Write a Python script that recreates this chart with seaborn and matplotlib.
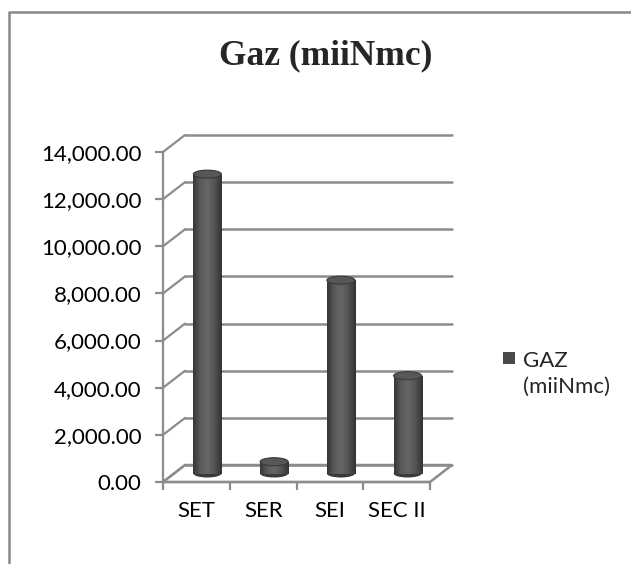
import numpy as np
import pandas as pd
import matplotlib
matplotlib.use("Agg")
import matplotlib.pyplot as plt
import matplotlib.transforms as mtransforms
from matplotlib.patches import Ellipse, Polygon, Rectangle
from matplotlib.lines import Line2D
from matplotlib.colors import LinearSegmentedColormap
import seaborn as sns

categories = ["SET", "SER", "SEI", "SEC II"]
values = [12700, 500, 8200, 4150]
series_name = "GAZ\n(miiNmc)"
title = "Gaz (miiNmc)"
yticks = [0, 2000, 4000, 6000, 8000, 10000, 12000, 14000]

sns.set_theme(style="white")
plt.rcParams["font.family"] = ["Lato", "DejaVu Sans"]

W, H = 631, 564
fig = plt.figure(figsize=(W / 100, H / 100), dpi=100)
ax = fig.add_axes([163 / W, 82 / H, 267 / W, 330 / H])

df = pd.DataFrame({"cat": categories, "val": values})
sns.barplot(data=df, x="cat", y="val", color="#4a4a4a", width=0.42, ax=ax,
            saturation=1, zorder=3)
bars = [p for p in ax.patches if isinstance(p, Rectangle)]

ax.set_xlim(-0.5, 3.5)
ax.set_ylim(0, 14000)

# depth offsets in data units
dx_back, dy_back = 0.33, 721
dx_mid, dy_mid = dx_back / 2, dy_back / 2
grid_c = "#8c8c8c"

# back wall gridlines + left wall connectors
for v in yticks:
    ax.add_line(Line2D([-0.5 + dx_back, 3.5 + dx_back], [v + dy_back, v + dy_back],
                       color=grid_c, lw=1.8, clip_on=False, zorder=1))
    ax.add_line(Line2D([-0.5, -0.5 + dx_back], [v, v + dy_back],
                       color=grid_c, lw=1.6, clip_on=False, zorder=1))
# floor
floor = Polygon([(-0.5, 0), (3.5, 0), (3.5 + dx_back, dy_back), (-0.5 + dx_back, dy_back)],
                closed=True, fill=False, edgecolor=grid_c, lw=1.8, clip_on=False, zorder=1)
ax.add_patch(floor)

# cylinder styling
cmap = LinearSegmentedColormap.from_list("cyl", ["#363636", "#5a5a5a", "#666666", "#535353", "#333333"])
grad = np.linspace(0, 1, 64).reshape(1, -1)
shift = mtransforms.Affine2D().translate(dx_mid, dy_mid) + ax.transData
ell_h = 340
for p in bars:
    x0, w, h = p.get_x(), p.get_width(), p.get_height()
    p.set_transform(shift)
    p.set_clip_on(False)
    p.set_edgecolor("none")
    bot = Ellipse((x0 + w / 2, 0), w, ell_h, transform=shift, facecolor="#3a3a3a",
                  edgecolor="none", clip_on=False, zorder=2)
    ax.add_patch(bot)
    im = ax.imshow(grad, extent=[x0, x0 + w, 0, h], transform=shift, cmap=cmap,
                   aspect="auto", zorder=4, interpolation="bicubic")
    im.set_clip_path(p)
    top = Ellipse((x0 + w / 2, h), w, ell_h, transform=shift, facecolor="#575757",
                  edgecolor="#3a3a3a", lw=0.8, clip_on=False, zorder=5)
    ax.add_patch(top)

ax.set_xlim(-0.5, 3.5)
ax.set_ylim(0, 14000)

# axes styling
for s in ["top", "right"]:
    ax.spines[s].set_visible(False)
ax.spines["left"].set_color(grid_c)
ax.spines["left"].set_linewidth(1.6)
ax.spines["bottom"].set_color(grid_c)
ax.spines["bottom"].set_linewidth(1.6)
ax.set_yticks(yticks)
ax.set_yticklabels([f"{v:,.2f}" for v in yticks], fontsize=16, color="black")
ax.set_xticks([-0.5, 0.5, 1.5, 2.5, 3.5], minor=False)
ax.set_xticklabels([])
ax.set_xticks(range(len(categories)), minor=True)
ax.set_xticklabels(categories, minor=True, fontsize=16, color="black")
ax.tick_params(axis="y", which="major", length=5.5, width=1.6, color=grid_c, left=True, pad=10)
ax.tick_params(axis="x", which="major", length=5.5, width=1.6, color=grid_c, bottom=True)
ax.tick_params(axis="x", which="minor", length=0, pad=14)
ax.set_xlabel("")
ax.set_ylabel("")
ax.set_facecolor("none")
ax.grid(False)

# title
fig.text(326 / W, 1 - 56 / H, title, ha="center", va="center",
         fontsize=25.5, fontweight="bold", family=["Liberation Serif", "DejaVu Serif"])

# legend
fig.patches.append(Rectangle((503 / W, 1 - 364 / H), 12 / W, 12 / H,
                             transform=fig.transFigure, facecolor="#4a4a4a",
                             edgecolor="none"))
fig.text(523 / W, 1 - 374 / H, series_name, ha="left", va="center", fontsize=16,
         linespacing=1.4)

# outer frame (top and left visible)
fig.add_artist(Line2D([9 / W, 9 / W, 1], [0, 1 - 12 / H, 1 - 12 / H],
                      transform=fig.transFigure, color="#888888", lw=1.8))

fig.savefig("out.png", dpi=100)
